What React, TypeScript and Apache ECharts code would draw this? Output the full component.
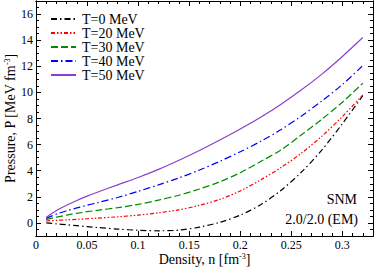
import React, { useEffect, useRef } from "react";
import * as echarts from "echarts";

const density = [0.01, 0.02, 0.03, 0.04, 0.05, 0.06, 0.08, 0.10, 0.12, 0.14, 0.16, 0.18, 0.20, 0.22, 0.24, 0.26, 0.28, 0.30, 0.32];
const pT0 = [0.0, -0.07, -0.14, -0.21, -0.28, -0.35, -0.47, -0.56, -0.6, -0.55, -0.32, 0.05, 0.6, 1.4, 2.5, 3.9, 5.6, 7.6, 9.75];
const pT20 = [0.15, 0.2, 0.24, 0.28, 0.32, 0.37, 0.47, 0.6, 0.78, 1.0, 1.35, 1.8, 2.45, 3.3, 4.25, 5.35, 6.65, 8.15, 9.8];
const pT30 = [0.26, 0.45, 0.6, 0.74, 0.86, 0.97, 1.17, 1.42, 1.75, 2.12, 2.6, 3.15, 3.85, 4.7, 5.6, 6.75, 7.95, 9.25, 10.7];
const pT40 = [0.35, 0.68, 0.93, 1.15, 1.35, 1.55, 1.95, 2.42, 2.92, 3.45, 4.05, 4.72, 5.45, 6.25, 7.15, 8.2, 9.35, 10.6, 12.05];
const pT50 = [0.42, 0.95, 1.35, 1.72, 2.05, 2.35, 2.92, 3.48, 4.1, 4.8, 5.55, 6.35, 7.2, 8.1, 9.1, 10.2, 11.4, 12.75, 14.2];

const seriesNames = ["T=0 MeV", "T=20 MeV", "T=30 MeV", "T=40 MeV", "T=50 MeV"];
const seriesData = [pT0, pT20, pT30, pT40, pT50];
const seriesColors = ["#000000", "#ff0000", "#008b00", "#0000ff", "#8a3fd0"];
const seriesDash: (number[] | string)[] = [
  [6, 3, 1.5, 3],
  [4, 2, 1.5, 2, 1.5, 2],
  [7, 3],
  [7, 3, 1.5, 3],
  "solid",
];

const xMin = 0;
const xMax = 0.33;
const yMin = -1;
const yMax = 17;
const annotations = ["SNM", "2.0/2.0 (EM)"];

const FONT = "Liberation Serif";

export default function App() {
  const ref = useRef<HTMLDivElement>(null);
  useEffect(() => {
    if (!ref.current) return;
    const chart = echarts.init(ref.current, null, { renderer: "svg" });
    const axisLine = { show: true, onZero: false, lineStyle: { color: "#000", width: 1 } };
    const labelStyle = { fontFamily: FONT, fontSize: 12, color: "#000" };
    const nameRich = {
      a: { fontFamily: FONT, fontSize: 14, color: "#000", lineHeight: 14 },
      sup: { fontFamily: FONT, fontSize: 8, color: "#000", verticalAlign: "top" as const, lineHeight: 14 },
    };
    const xBase = (pos: string, interval: number, tickLen: number, labels: boolean, extra: any = {}) => ({
      type: "value",
      position: pos,
      min: xMin,
      max: xMax,
      interval,
      axisLine,
      axisTick: { show: true, inside: true, length: tickLen, lineStyle: { color: "#000" } },
      axisLabel: labels
        ? { ...labelStyle, margin: 3, showMaxLabel: false }
        : { show: false },
      splitLine: { show: false },
      ...extra,
    });
    const yMajor = (pos: string, labels: boolean, extra: any = {}) => ({
      type: "value",
      position: pos,
      min: yMin,
      max: yMax,
      splitNumber: 9,
      axisLine,
      axisTick: { show: true, inside: true, length: 5, lineStyle: { color: "#000" } },
      axisLabel: labels
        ? {
            ...labelStyle,
            margin: 3,
            formatter: (v: number) => (Math.abs(v % 2) < 1e-9 ? String(v) : ""),
          }
        : { show: false },
      splitLine: { show: false },
      ...extra,
    });
    const yMinor = (pos: string) => ({
      type: "value",
      position: pos,
      min: yMin,
      max: yMax,
      interval: 0.5,
      axisLine,
      axisTick: { show: true, inside: true, length: 3, lineStyle: { color: "#000" } },
      axisLabel: { show: false },
      splitLine: { show: false },
    });

    chart.setOption({
      animation: false,
      grid: { left: 36, right: 1, top: 1, bottom: 34, containLabel: false, outerBoundsMode: "none" },
      xAxis: [
        xBase("bottom", 0.05, 5, true, {
          name: "{a|Density, n [fm}{sup|-3}{a|]}",
          nameLocation: "middle",
          nameGap: 16,
          nameMoveOverlap: false,
          nameTextStyle: { fontFamily: FONT, fontSize: 14, color: "#000", rich: nameRich },
        }),
        xBase("bottom", 0.01, 3, false),
        xBase("top", 0.05, 5, false),
        xBase("top", 0.01, 3, false),
      ],
      yAxis: [
        yMajor("left", true, {
          name: "{a|Pressure, P [MeV fm}{sup|-3}{a|]}",
          nameLocation: "middle",
          nameGap: 19,
          nameRotate: 90,
          nameMoveOverlap: false,
          nameTextStyle: { fontFamily: FONT, fontSize: 14, color: "#000", rich: nameRich },
        }),
        yMinor("left"),
        yMajor("right", false),
        yMinor("right"),
      ],
      legend: {
        show: true,
        orient: "vertical",
        left: 50,
        top: 12,
        padding: 0,
        itemGap: 0,
        itemWidth: 25,
        itemHeight: 13,
        itemStyle: { opacity: 0 },
        textStyle: { fontFamily: FONT, fontSize: 14, color: "#000", lineHeight: 13, padding: [0, 0, 0, 1] },
        data: seriesNames,
      },
      graphic: [
        {
          type: "text",
          x: 357,
          y: 199,
          style: {
            text: annotations[0],
            fontFamily: FONT,
            fontSize: 14,
            fill: "#000",
            textAlign: "right",
            textVerticalAlign: "middle",
          },
        },
        {
          type: "text",
          x: 358,
          y: 219,
          style: {
            text: annotations[1],
            fontFamily: FONT,
            fontSize: 14,
            fill: "#000",
            textAlign: "right",
            textVerticalAlign: "middle",
          },
        },
      ],
      series: seriesNames.map((name, i) => ({
        name,
        type: "line",
        xAxisIndex: 0,
        yAxisIndex: 0,
        symbol: "none",
        smooth: 0.3,
        lineStyle: { color: seriesColors[i], width: 1.2, type: seriesDash[i] },
        itemStyle: { color: seriesColors[i] },
        data: density.map((n, k) => [n, seriesData[i][k]]),
      })),
    });
    return () => chart.dispose();
  }, []);
  return <div ref={ref} style={{ position: "absolute", left: 0, top: 0, width: 374, height: 270 }} />;
}
